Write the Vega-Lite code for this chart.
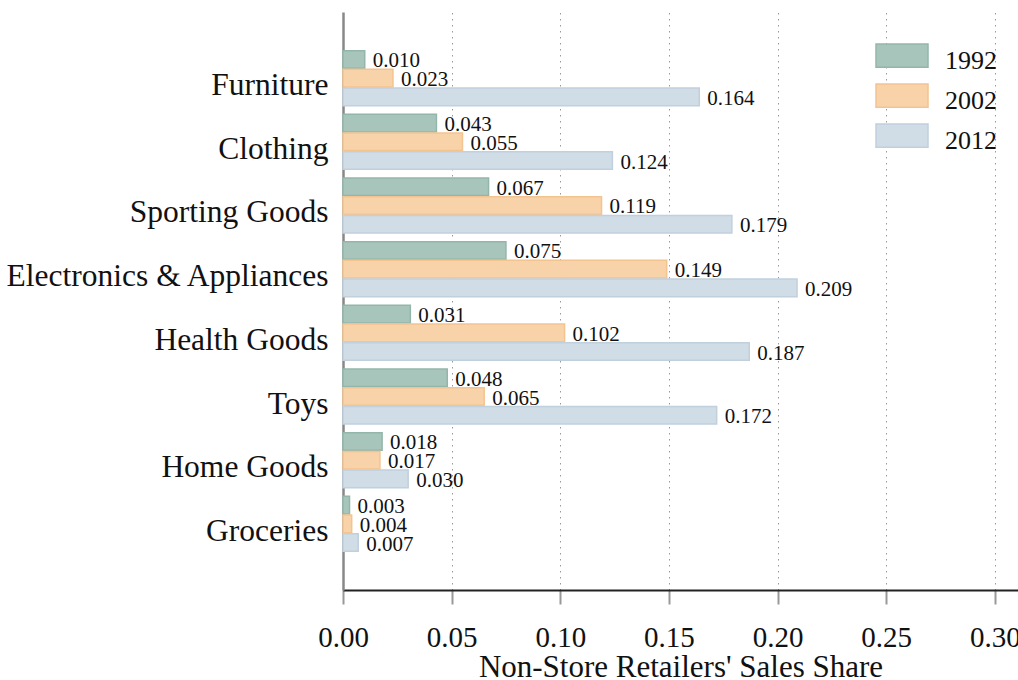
{
  "$schema": "https://vega.github.io/schema/vega-lite/v6.json",
  "width": 675,
  "height": 578,
  "autosize": {"type": "none"},
  "padding": {"left": 343, "top": 12, "right": 0, "bottom": 90},
  "background": "white",
  "config": {
    "view": {"stroke": null},
    "font": "Liberation Serif",
    "text": {"font": "Liberation Serif"}
  },
  "data": {
    "values": [
      {"category": "Furniture", "year": "1992", "share": 0.010},
      {"category": "Furniture", "year": "2002", "share": 0.023},
      {"category": "Furniture", "year": "2012", "share": 0.164},
      {"category": "Clothing", "year": "1992", "share": 0.043},
      {"category": "Clothing", "year": "2002", "share": 0.055},
      {"category": "Clothing", "year": "2012", "share": 0.124},
      {"category": "Sporting Goods", "year": "1992", "share": 0.067},
      {"category": "Sporting Goods", "year": "2002", "share": 0.119},
      {"category": "Sporting Goods", "year": "2012", "share": 0.179},
      {"category": "Electronics & Appliances", "year": "1992", "share": 0.075},
      {"category": "Electronics & Appliances", "year": "2002", "share": 0.149},
      {"category": "Electronics & Appliances", "year": "2012", "share": 0.209},
      {"category": "Health Goods", "year": "1992", "share": 0.031},
      {"category": "Health Goods", "year": "2002", "share": 0.102},
      {"category": "Health Goods", "year": "2012", "share": 0.187},
      {"category": "Toys", "year": "1992", "share": 0.048},
      {"category": "Toys", "year": "2002", "share": 0.065},
      {"category": "Toys", "year": "2012", "share": 0.172},
      {"category": "Home Goods", "year": "1992", "share": 0.018},
      {"category": "Home Goods", "year": "2002", "share": 0.017},
      {"category": "Home Goods", "year": "2012", "share": 0.030},
      {"category": "Groceries", "year": "1992", "share": 0.003},
      {"category": "Groceries", "year": "2002", "share": 0.004},
      {"category": "Groceries", "year": "2012", "share": 0.007}
    ]
  },
  "encoding": {
    "y": {
      "field": "category",
      "type": "nominal",
      "sort": null,
      "scale": {"paddingInner": 0.136, "paddingOuter": 0.607, "align": 0.5},
      "axis": {
        "title": null,
        "ticks": false,
        "domainColor": "#888888",
        "domainWidth": 2.5,
        "labelFont": "Liberation Serif",
        "labelFontSize": 31.5,
        "labelColor": "#111111",
        "labelPadding": 15,
        "labelOffset": 8,
        "labelLimit": 0,
        "grid": false
      }
    },
    "yOffset": {
      "field": "year",
      "type": "nominal",
      "sort": ["1992", "2002", "2012"],
      "scale": {"paddingInner": 0.06, "paddingOuter": 0}
    },
    "x": {
      "field": "share",
      "type": "quantitative",
      "scale": {"domain": [0, 0.3107], "nice": false, "zero": true},
      "axis": {
        "title": "Non-Store Retailers' Sales Share",
        "titleFont": "Liberation Serif",
        "titleFontSize": 31,
        "titleFontWeight": "normal",
        "titleColor": "#111111",
        "titlePadding": 0,
        "values": [0, 0.05, 0.1, 0.15, 0.2, 0.25, 0.3],
        "format": ".2f",
        "labelFont": "Liberation Serif",
        "labelFontSize": 29,
        "labelColor": "#111111",
        "labelPadding": 19,
        "labelFlush": false,
        "labelOverlap": false,
        "labelBound": false,
        "tickColor": "#999999",
        "tickWidth": 2,
        "tickSize": 14,
        "domainColor": "#222222",
        "domainWidth": 2,
        "grid": true,
        "gridColor": "#999999",
        "gridDash": [1.5, 4.5],
        "gridWidth": 1
      }
    }
  },
  "layer": [
    {
      "mark": {"type": "bar", "strokeWidth": 1.5},
      "encoding": {
        "color": {
          "field": "year",
          "type": "nominal",
          "scale": {"domain": ["1992", "2002", "2012"], "range": ["#a8c5bc", "#f8d2a8", "#d0dce6"]},
          "legend": {
            "title": null,
            "orient": "none",
            "legendX": 532,
            "legendY": 21.5,
            "padding": 0,
            "symbolType": "M-1,-0.635H1V0.255H-1Z",
            "symbolSize": 2704,
            "symbolStrokeWidth": 1.5,
            "symbolOpacity": 1,
            "labelFont": "Liberation Serif",
            "labelFontSize": 26,
            "labelColor": "#111111",
            "labelOffset": 16,
            "rowPadding": -1.5
          }
        },
        "stroke": {
          "field": "year",
          "type": "nominal",
          "scale": {"domain": ["1992", "2002", "2012"], "range": ["#92b6aa", "#f4c490", "#c0d0dd"]},
          "legend": {
            "title": null,
            "orient": "none",
            "legendX": 532,
            "legendY": 21.5,
            "padding": 0,
            "symbolType": "M-1,-0.635H1V0.255H-1Z",
            "symbolSize": 2704,
            "symbolStrokeWidth": 1.5,
            "symbolOpacity": 1,
            "labelFont": "Liberation Serif",
            "labelFontSize": 26,
            "labelColor": "#111111",
            "labelOffset": 16,
            "rowPadding": -1.5
          }
        }
      }
    },
    {
      "mark": {"type": "text", "align": "left", "baseline": "middle", "dx": 8, "dy": 2, "fontSize": 21, "font": "Liberation Serif", "color": "#111111"},
      "encoding": {
        "text": {"field": "share", "type": "quantitative", "format": ".3f"}
      }
    }
  ]
}
